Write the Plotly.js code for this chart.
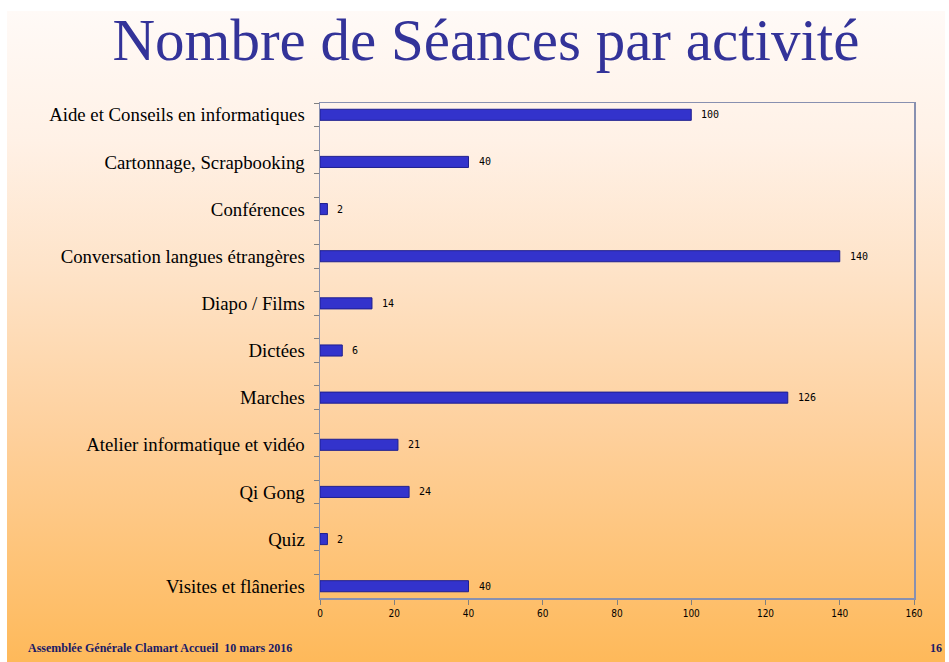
<!DOCTYPE html>
<html><head><meta charset="utf-8">
<script src="https://cdn.plot.ly/plotly-3.0.1.min.js"></script>
<style>
html,body{margin:0;padding:0;width:949px;height:662px;overflow:hidden;background:#fff;}
#slide{position:absolute;left:7px;top:11px;width:938px;height:651px;
background:linear-gradient(to bottom,#fffaf7 0%,#fff1e6 20%,#fee3c8 40%,#fed09c 65%,#feb95a 100%);}
#chart{position:absolute;left:0;top:0;width:949px;height:662px;}
</style></head><body>
<div id="slide"></div>
<div id="chart"></div>
<script>
const categories = ["Aide et Conseils en informatiques","Cartonnage, Scrapbooking","Conférences","Conversation langues étrangères","Diapo / Films","Dictées","Marches","Atelier informatique et vidéo","Qi Gong","Quiz","Visites et flâneries"];
const seances = [100,40,2,140,14,6,126,21,24,2,40];
const xTicks = [0,20,40,60,80,100,120,140,160];

// axis order: each activity followed by an empty slot (as in the original chart)
const axisOrder = [];
categories.forEach((c,i)=>{ axisOrder.push(c); if(i<categories.length-1) axisOrder.push(' '.repeat(i+1)); });

const trace = {
  type:'bar', orientation:'h', y:categories, x:seances,
  width:0.47,
  marker:{color:'#3333cc', line:{color:'#1f1f8f', width:1}},
  hoverinfo:'none'
};
const valueLabels = seances.map((v,i)=>({
  x:v, y:categories[i], xref:'x', yref:'y', text:String(v), showarrow:false,
  xanchor:'left', yanchor:'middle', xshift:8,
  font:{family:'DejaVu Sans Mono, monospace', size:10, color:'#000'}
}));
const layout = {
  width:949, height:662,
  paper_bgcolor:'rgba(0,0,0,0)', plot_bgcolor:'rgba(0,0,0,0)',
  margin:{l:320, r:35, t:103, b:64},
  showlegend:false,
  title:{text:'Nombre de Séances par activité', x:0.512, xanchor:'center', y:0.972, yanchor:'top',
    font:{family:'Liberation Serif, serif', size:59, color:'#333399'}},
  xaxis:{range:[0,160], tickvals:xTicks, ticktext:xTicks.map(String), showgrid:false, zeroline:false,
    ticks:'outside', ticklen:5, tickcolor:'#808080', showline:true, linecolor:'#8890b0', linewidth:1.5, mirror:true,
    tickfont:{family:'DejaVu Sans Condensed, sans-serif', size:10, color:'#000'}},
  yaxis:{type:'category', categoryorder:'array', categoryarray:axisOrder, autorange:'reversed',
    showgrid:false, zeroline:false, tickson:'boundaries',
    ticks:'outside', ticklen:5, tickcolor:'#808080', showline:true, linecolor:'#8890b0', linewidth:1.5, mirror:true,
    ticklabelstandoff:10,
    tickfont:{family:'Liberation Serif, serif', size:18.8, color:'#000'}},
  annotations:valueLabels.concat([
    {text:'<b>Assemblée Générale Clamart Accueil  10 mars 2016</b>', xref:'paper', yref:'paper', x:-320/594+26/594, y:-64/495+14/495,
     xanchor:'left', yanchor:'middle', showarrow:false, font:{family:'Liberation Serif, serif', size:12, color:'#1a1a66'}},
    {text:'<b>16</b>', xref:'paper', yref:'paper', x:1+(936-914)/594, y:-64/495+14/495, xanchor:'center', yanchor:'middle',
     showarrow:false, font:{family:'Liberation Serif, serif', size:12, color:'#1a1a66'}}
  ])
};
Plotly.newPlot('chart',[trace],layout,{staticPlot:true});
</script></body></html>
